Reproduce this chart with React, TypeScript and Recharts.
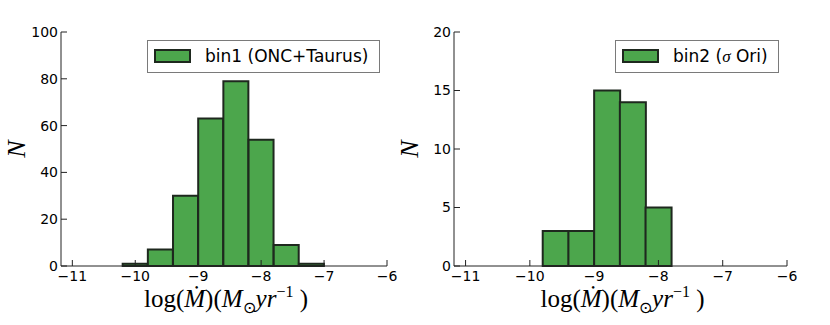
import React from "react";
import { BarChart, Bar, XAxis, YAxis, Legend } from "recharts";

// bin centres (log Mdot) and counts
const centers1 = [-10.0, -9.6, -9.2, -8.8, -8.4, -8.0, -7.6, -7.2];
const counts1 = [1, 7, 30, 63, 79, 54, 9, 1];
const centers2 = [-9.6, -9.2, -8.8, -8.4, -8.0];
const counts2 = [3, 3, 15, 14, 5];

const xTicks = [-11, -10, -9, -8, -7, -6];
const yTicks1 = [0, 20, 40, 60, 80, 100];
const yTicks2 = [0, 5, 10, 15, 20];

const label1 = "bin1 (ONC+Taurus)";
const label2 = "bin2";

const GREEN = "#4ca64c";
const EDGE = "#1e281e";
const AXIS = "#222";
const tickFont = { fill: "#000", fontSize: 14, fontFamily: "DejaVu Sans" };
const fmt = (v: number) => String(v).replace("-", "\u2212");

const XLabel = (props: any) => {
  const vb = props.viewBox;
  const x = vb.x + vb.width / 2 + 2;
  const y = vb.y + 41;
  return (
    <text x={x} y={y} textAnchor="middle" fontFamily="Liberation Serif" fontSize={25} fill="#000">
      <tspan>log(</tspan>
      <tspan fontStyle="italic">{"\u1E40"}</tspan>
      <tspan>)(</tspan>
      <tspan fontStyle="italic">M</tspan>
      <tspan fontSize={16} dy={6}>{"\u2299"}</tspan>
      <tspan fontStyle="italic" dy={-6}>yr</tspan>
      <tspan fontSize={16} dy={-10}>{"\u22121"}</tspan>
      <tspan dy={10}> )</tspan>
    </text>
  );
};

const YLabel = (props: any) => {
  const vb = props.viewBox;
  const x = vb.x + vb.width - 45;
  const y = vb.y + vb.height / 2;
  return (
    <text
      x={x}
      y={y}
      transform={`rotate(-90, ${x}, ${y})`}
      textAnchor="middle"
      dominantBaseline="central"
      fontFamily="Liberation Serif"
      fontStyle="italic"
      fontSize={26}
      fill="#000"
    >
      N
    </text>
  );
};

function LegendBox({ children, width }: { children: React.ReactNode; width: number }) {
  return (
    <div
      style={{
        boxSizing: "border-box",
        width,
        height: 33,
        border: "1px solid #7a7a7a",
        background: "#fff",
        position: "relative",
      }}
    >
      <div
        style={{
          position: "absolute",
          left: 6,
          top: 8,
          width: 37,
          height: 14,
          boxSizing: "border-box",
          background: GREEN,
          border: `2px solid ${EDGE}`,
        }}
      />
      <span
        style={{
          position: "absolute",
          left: 57,
          top: 5,
          fontFamily: "DejaVu Sans",
          fontSize: 17,
          lineHeight: "20px",
          color: "#000",
          whiteSpace: "nowrap",
        }}
      >
        {children}
      </span>
    </div>
  );
}

function Panel(props: {
  centers: number[];
  counts: number[];
  yMax: number;
  yTicks: number[];
  yWidth: number;
  legend: React.ReactNode;
  legendLeft: number;
  legendWidth: number;
  width: number;
}) {
  const data = props.centers.map((x, i) => ({ x, n: props.counts[i] }));
  return (
    <BarChart
      width={props.width}
      height={325}
      data={data}
      barCategoryGap={0}
      barGap={0}
      margin={{ top: 32, right: 13, bottom: 0, left: 0 }}
    >
      <XAxis
        dataKey="x"
        type="number"
        domain={[-11.18, -6]}
        allowDataOverflow
        ticks={xTicks}
        interval={0}
        tickFormatter={fmt}
        tick={tickFont}
        fontSize={14}
        fontFamily="DejaVu Sans"
        tickSize={-6}
        tickMargin={11}
        height={59}
        stroke={AXIS}
        label={<XLabel />}
      />
      <XAxis
        xAxisId="top"
        orientation="top"
        type="number"
        domain={[-11.18, -6]}
        allowDataOverflow
        ticks={xTicks}
        interval={0}
        tick={false}
        tickSize={-6}
        height={0}
        stroke={AXIS}
      />
      <YAxis
        type="number"
        domain={[0, props.yMax]}
        ticks={props.yTicks}
        interval={0}
        tick={tickFont}
        fontSize={14}
        fontFamily="DejaVu Sans"
        tickSize={-6}
        tickMargin={9}
        width={props.yWidth}
        stroke={AXIS}
        label={<YLabel />}
      />
      <YAxis
        yAxisId="right"
        orientation="right"
        type="number"
        domain={[0, props.yMax]}
        ticks={props.yTicks}
        interval={0}
        tick={false}
        tickSize={-6}
        width={0}
        stroke={AXIS}
      />
      <Legend
        layout="vertical"
        align="center"
        verticalAlign="middle"
        wrapperStyle={{ left: props.legendLeft, top: 40, width: props.legendWidth, height: 33 }}
        content={() => <LegendBox width={props.legendWidth}>{props.legend}</LegendBox>}
      />
      <Bar
        dataKey="n"
        fill={GREEN}
        stroke={EDGE}
        strokeWidth={2}
        isAnimationActive={false}
      />
    </BarChart>
  );
}

export default function App() {
  return (
    <div style={{ position: "absolute", left: 0, top: 0, width: 830, height: 325, background: "#fff" }}>
      <div style={{ position: "absolute", left: 0, top: 0 }}>
        <Panel
          width={400}
          centers={centers1}
          counts={counts1}
          yMax={100}
          yTicks={yTicks1}
          yWidth={61}
          legend={label1}
          legendLeft={147}
          legendWidth={233}
        />
      </div>
      <div style={{ position: "absolute", left: 390, top: 0 }}>
        <Panel
          width={410}
          centers={centers2}
          counts={counts2}
          yMax={20}
          yTicks={yTicks2}
          yWidth={64}
          legend={
            <>
              {label2} (<span style={{ fontFamily: "Liberation Serif", fontStyle: "italic" }}>{"\u03C3"}</span> Ori)
            </>
          }
          legendLeft={225}
          legendWidth={164}
        />
      </div>
    </div>
  );
}
